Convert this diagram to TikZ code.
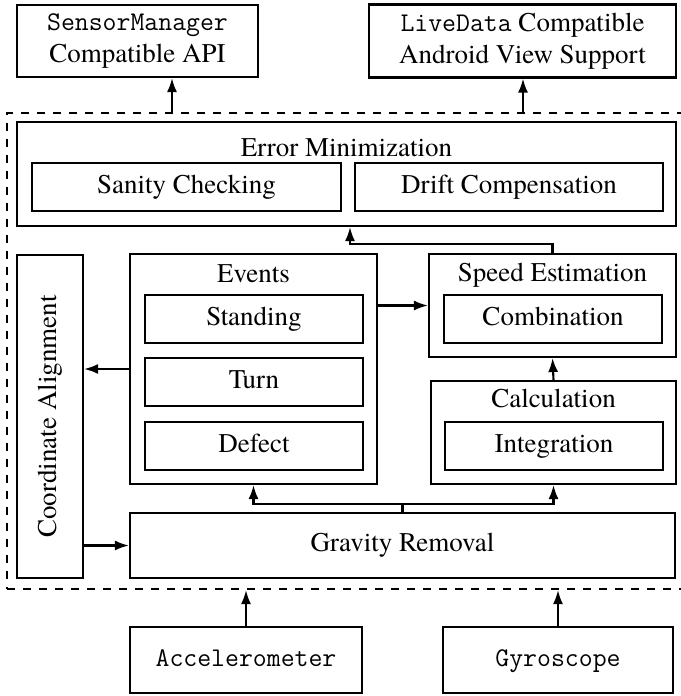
\documentclass[tikz,border=0pt]{standalone}
\usepackage{fontspec}
\setmainfont{texgyretermes}[Extension=.otf, UprightFont=*-regular, BoldFont=*-bold, ItalicFont=*-italic, BoldItalicFont=*-bolditalic]
\usetikzlibrary{arrows.meta}
\begin{document}
\begin{tikzpicture}[x=1pt, y=-1pt, line width=2.1pt,
  font=\rmfamily\fontsize{27pt}{32.4pt}\selectfont,
  box/.style={draw, inner sep=0pt, align=center},
  lbl/.style={text height=18.9pt, text depth=6.75pt},
  title/.style={anchor=base, inner sep=0pt},
  arr/.style={-{Latex[length=14pt,width=10pt]}},
  container/.style={draw, dash pattern=on 8pt off 8pt, inner sep=0pt}]
\useasboundingbox (0,0) rectangle (680,696);

% outputs
\node[box, minimum width=241pt, minimum height=72pt] (sensor) at (137.5,41)
  {\texttt{SensorManager}\\Compatible API};
\node[box, minimum width=307pt, minimum height=73pt] (live) at (522.5,41)
  {\texttt{LiveData} Compatible\\Android View Support};

% processing core
\node[container, minimum width=693pt, minimum height=476pt] (core) at (353.5,351) {};

% error minimization
\node[box, minimum width=659pt, minimum height=104pt] (errmin) at (346.5,174) {};
\node[title] (errt) at (346.5,156) {Error Minimization};
\node[box, lbl, minimum width=309pt, minimum height=48pt] (sanity) at (186.5,187) {Sanity Checking};
\node[box, lbl, minimum width=308pt, minimum height=48pt] (drift) at (509,187) {Drift Compensation};

% coordinate alignment
\node[box, minimum width=66pt, minimum height=323pt] (coord) at (50,416.5) {};
\node[lbl, rotate=90, inner sep=0pt] (coordt) at (coord.center) {Coordinate Alignment};

% events
\node[box, minimum width=247pt, minimum height=230pt] (events) at (253.5,369) {};
\node[title] (evt) at (253.5,282) {Events};
\node[box, lbl, minimum width=218pt, minimum height=48pt] (stand) at (254,319) {Standing};
\node[box, lbl, minimum width=218pt, minimum height=48pt] (turn) at (254,382) {Turn};
\node[box, lbl, minimum width=218pt, minimum height=48pt] (defect) at (254,446) {Defect};

% speed estimation
\node[box, minimum width=247pt, minimum height=103pt] (speed) at (552.5,305.5) {};
\node[title] (spt) at (552.5,281) {Speed Estimation};
\node[box, lbl, minimum width=218pt, minimum height=48pt] (comb) at (553,319) {Combination};

% calculation
\node[box, minimum width=245pt, minimum height=103pt] (calc) at (553.5,432.5) {};
\node[title] (cat) at (553.5,407) {Calculation};
\node[box, lbl, minimum width=218pt, minimum height=48pt] (integ) at (554,446) {Integration};

% gravity removal
\node[box, lbl, minimum width=545pt, minimum height=65pt] (grav) at (402.5,545.5) {Gravity Removal};

% sensors
\node[box, lbl, minimum width=232pt, minimum height=66pt] (accel) at (246,660) {\texttt{Accelerometer}};
\node[box, lbl, minimum width=230pt, minimum height=66pt] (gyro) at (558,660) {\texttt{Gyroscope}};

% connectors
\coordinate (outA) at (172,113);
\coordinate (outB) at (523,113);
\draw[arr] (outA) -- (outA |- sensor.south);
\draw[arr] (outB) -- (outB |- live.south);

\coordinate (jErr) at (350,244);
\draw[arr] (speed.north) |- (jErr) -- (jErr |- errmin.south);

\draw[arr] (events.west) -- (events.west -| coord.east);
\draw[arr] (speed.west -| events.east) -- (speed.west);
\draw[arr] (calc.north) -- (speed.south);

\draw[arr] (grav.west -| coord.east) -- (grav.west);

\coordinate (split) at (402.5,504);
\draw (grav.north) -- (split);
\draw[arr] (split) -| (events.south);
\draw[arr] (split) -| (calc.south);

\draw[arr] (accel.north) -- (accel.north |- core.south);
\draw[arr] (gyro.north) -- (gyro.north |- core.south);
\end{tikzpicture}
\end{document}
